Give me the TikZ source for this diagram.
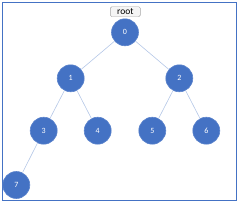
\documentclass[tikz,border=0pt]{standalone}
\usepackage{fontspec}
\setmainfont{Carlito}
\begin{document}
\begin{tikzpicture}[x=1pt,y=-1pt,
  tn/.style={circle,fill=nodeblue,draw=nodeedge,line width=0.6pt,minimum size=27pt,inner sep=0pt,text=white,font=\fontsize{8}{9}\selectfont},
  ed/.style={draw=edgeblue,line width=0.6pt},
  rootbox/.style={draw=gray!70,fill=gray!8,rounded corners=1.5pt,minimum width=30pt,minimum height=10pt,inner sep=0pt,font=\fontsize{9.5}{10}\selectfont}]
\definecolor{nodeblue}{HTML}{4472C4}
\definecolor{nodeedge}{HTML}{5B83CC}
\definecolor{edgeblue}{HTML}{B4C7E7}
\definecolor{frameblue}{HTML}{4472C4}
\useasboundingbox (0,0) rectangle (239,204);
\draw[frameblue,line width=1.2pt] (2.3,2.3) rectangle (236.4,200.7);
\node[rootbox] (r) at (125.3,11.7) {root};
\node[tn] (n0) at (125,32.3) {0};
\node[tn] (n1) at (70.7,78.3) {1};
\node[tn] (n2) at (179.3,78.3) {2};
\node[tn] (n3) at (43.7,130.7) {3};
\node[tn] (n4) at (97.7,130.7) {4};
\node[tn] (n5) at (152.3,130.7) {5};
\node[tn] (n6) at (206.3,130.7) {6};
\node[tn] (n7) at (16.3,185) {7};
\draw[ed] (n0) -- (n1);
\draw[ed] (n0) -- (n2);
\draw[ed] (n1) -- (n3);
\draw[ed] (n1) -- (n4);
\draw[ed] (n2) -- (n5);
\draw[ed] (n2) -- (n6);
\draw[ed] (n3) -- (n7);
\end{tikzpicture}
\end{document}
